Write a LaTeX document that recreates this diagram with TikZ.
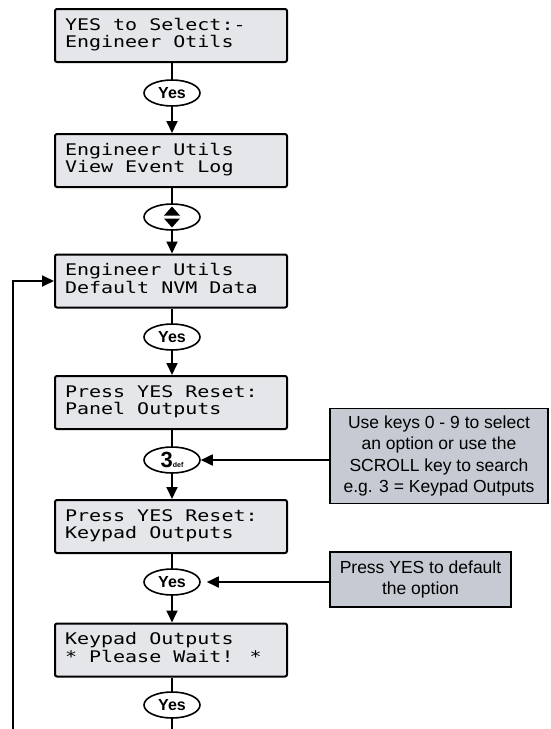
\documentclass[tikz,border=0pt]{standalone}
\usepackage{fontspec}
\usepackage{graphicx}
\setmainfont{Liberation Sans}
\newfontfamily\lcdfont{DejaVu Sans Mono}
\usetikzlibrary{shapes.geometric,arrows.meta}
\definecolor{lcdfill}{HTML}{E4E6EA}
\definecolor{notefill}{HTML}{C6CBD3}
\newcommand{\lcdtext}[2]{\makebox[212pt][l]{\scalebox{1.25}[1]{%
  \begin{tabular}{@{}l@{}}#1\\{}#2\end{tabular}}}}
\begin{document}
\begin{tikzpicture}[x=1pt,y=-1pt,
  lcd/.style={draw=black, line width=2pt, rounded corners=2pt, fill=lcdfill,
    inner xsep=10pt, inner ysep=0pt, minimum width=232pt, minimum height=53pt,
    font=\lcdfont\fontsize{16}{17}\selectfont},
  key/.style={ellipse, draw=black, line width=1.6pt, fill=white,
    minimum width=56pt, minimum height=26pt, inner sep=0pt,
    font=\bfseries\fontsize{16}{16}\selectfont},
  note/.style={draw=black, line width=1.8pt, fill=notefill, align=center,
    inner sep=0pt, font=\fontsize{17.5}{21.5}\selectfont},
  link/.style={line width=1.8pt},
  arr/.style={link, -{Triangle[length=12pt,width=11pt]}},
]
\useasboundingbox (0,0) rectangle (551,729);

% LCD boxes
\node[lcd] (b1) at (171,35.5) {\lcdtext{YES to Select:-}{Engineer Otils}};
\node[lcd] (b2) at (171,160.5) {\lcdtext{Engineer Utils}{View Event Log}};
\node[lcd] (b3) at (171,281) {\lcdtext{Engineer Utils}{Default NVM Data}};
\node[lcd] (b4) at (171,402.5) {\lcdtext{Press YES Reset:}{Panel Outputs}};
\node[lcd] (b5) at (171,526.5) {\lcdtext{Press YES Reset:}{Keypad Outputs}};
\node[lcd] (b6) at (171,650) {\lcdtext{Keypad Outputs}{* Please Wait! *}};

% keys
\node[key] (k1) at (172,93) {Yes};
\node[key] (k2) at (172,217) {};
\node[key] (k3) at (172,337) {Yes};
\node[key] (k4) at (172,460) {\fontsize{22}{22}\selectfont 3\fontsize{7}{7}\selectfont def};
\node[key] (k5) at (172,582) {Yes};
\node[key] (k6) at (172,705) {Yes};

% scroll symbol
\begin{scope}[shift={(k2.center)}]
  \fill (-8,-1.5) -- (8,-1.5) -- (0,-10.5) -- cycle;
  \fill (-8,1.5) -- (8,1.5) -- (0,10.5) -- cycle;
\end{scope}

% notes
\node[note, minimum width=218pt, minimum height=95pt] (n1) at (439,456)
  {Use keys 0 - 9 to select\\an option or use the\\SCROLL key to search\\e.g. 3 = Keypad Outputs};
\node[note, minimum width=181pt, minimum height=55pt, font=\fontsize{17.5}{20.5}\selectfont] (n2) at (420.5,579.5)
  {Press YES to default\\the option};

% free ends
\coordinate (endc) at (172,729);
\coordinate (loopb) at (13,729);

% connectors
\draw[link] (b1.south -| k1) -- (k1.north);
\draw[arr] (k1.south) -- (b2.north -| k1);
\draw[link] (b2.south -| k2) -- (k2.north);
\draw[arr] (k2.south) -- (b3.north -| k2);
\draw[link] (b3.south -| k3) -- (k3.north);
\draw[arr] (k3.south) -- (b4.north -| k3);
\draw[link] (b4.south -| k4) -- (k4.north);
\draw[arr] (k4.south) -- (b5.north -| k4);
\draw[link] (b5.south -| k5) -- (k5.north);
\draw[arr] (k5.south) -- (b6.north -| k5);
\draw[link] (b6.south -| k6) -- (k6.north);
\draw[link] (k6.south) -- (endc);
\draw[arr] (loopb) |- (b3.west);
\draw[arr] (n1.west |- k4) -- (k4.east);
\draw[arr, shorten >=6pt] (n2.west |- k5) -- (k5.east);
\end{tikzpicture}
\end{document}
